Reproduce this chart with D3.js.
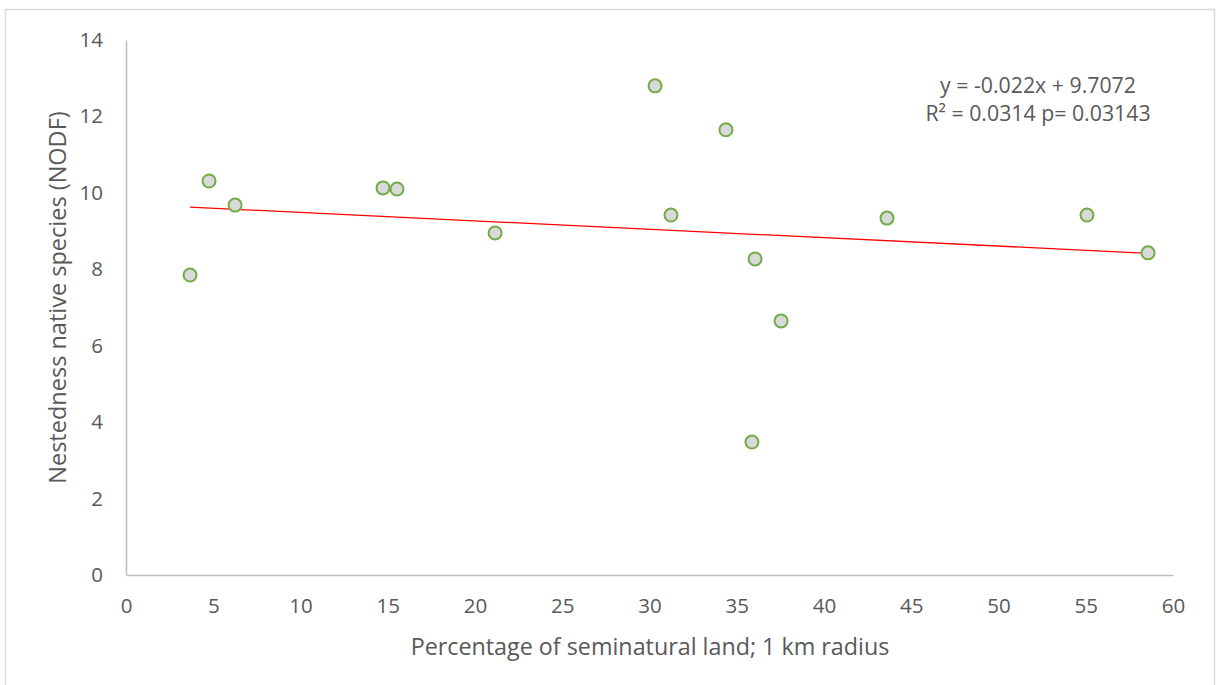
<!DOCTYPE html>
<html>
<head>
<meta charset="utf-8">
<script src="https://cdn.jsdelivr.net/npm/d3@7"></script>
<style>
  body { margin: 0; background: #fff; }
  text { font-family: "Open Sans", "Noto Sans", sans-serif; fill: #595959; }
</style>
</head>
<body>
<script>
// seminatural land (%) and nestedness (NODF) per site
var landPct = [3.67, 4.76, 6.25, 14.73, 15.53, 21.15, 30.32, 31.23, 34.38, 36.05, 35.87, 37.54, 43.61, 55.07, 58.57];
var nodf    = [7.85, 10.31, 9.68, 10.13, 10.10, 8.95, 12.80, 9.42, 11.65, 8.27, 3.48, 6.65, 9.34, 9.42, 8.43];
var xTicks = [0, 5, 10, 15, 20, 25, 30, 35, 40, 45, 50, 55, 60];
var yTicks = [0, 2, 4, 6, 8, 10, 12, 14];
var slope = -0.022, intercept = 9.7072;
var eqLines = ["y = -0.022x + 9.7072", "R² = 0.0314 p= 0.03143"];

var svgWidth = 1216;
var svgHeight = 685;
var plotLeft = 126, plotRight = 1173, plotTop = 40, plotBottom = 575;

var svg = d3.select("body").append("svg")
  .attr("width", svgWidth)
  .attr("height", svgHeight);

// outer chart border
svg.append("rect")
  .attr("x", 5.5).attr("y", 9.5)
  .attr("width", 1209).attr("height", 690)
  .attr("fill", "none")
  .attr("stroke", "#d9d9d9")
  .attr("stroke-width", 1.5);

var xScale = d3.scaleLinear().domain([0, 60]).range([plotLeft, plotRight]);
var yScale = d3.scaleLinear().domain([0, 14]).range([plotBottom, plotTop]);

// axes, excel style: no ticks, just the line
var xAxis = svg.append("g")
  .attr("transform", "translate(0," + plotBottom + ")")
  .call(d3.axisBottom(xScale).tickValues(xTicks).tickSize(0).tickPadding(29));
var yAxis = svg.append("g")
  .attr("transform", "translate(" + plotLeft + ",0)")
  .call(d3.axisLeft(yScale).tickValues(yTicks).tickSize(0).tickPadding(23));

[xAxis, yAxis].forEach(function(a) {
  a.select(".domain").attr("stroke", "#bfbfbf").attr("stroke-width", 1.5);
  a.selectAll("text").style("font-size", "20.5px").attr("fill", "#595959");
});
xAxis.selectAll("text").attr("dy", "0.42em");

// trendline
var xMin = d3.min(landPct), xMax = d3.max(landPct);
svg.append("line")
  .attr("x1", xScale(xMin)).attr("y1", yScale(slope * xMin + intercept))
  .attr("x2", xScale(xMax)).attr("y2", yScale(slope * xMax + intercept))
  .attr("stroke", "#ff0000")
  .attr("stroke-width", 1.3);

// points
svg.selectAll("circle.pt")
  .data(landPct.map(function(d, i) { return [d, nodf[i]]; }))
  .enter().append("circle")
  .attr("class", "pt")
  .attr("cx", function(d) { return xScale(d[0]); })
  .attr("cy", function(d) { return yScale(d[1]); })
  .attr("r", 6.5)
  .attr("fill", "#d9d9d9")
  .attr("stroke", "#70ad47")
  .attr("stroke-width", 2);

// equation label
svg.selectAll("text.eq")
  .data(eqLines)
  .enter().append("text")
  .attr("class", "eq")
  .attr("x", 1038)
  .attr("y", function(d, i) { return 93 + i * 28; })
  .attr("text-anchor", "middle")
  .style("font-size", "21.3px")
  .text(function(d) { return d; });

// axis titles
svg.append("text")
  .attr("x", 650).attr("y", 655)
  .attr("text-anchor", "middle")
  .style("font-size", "23.3px")
  .text("Percentage of seminatural land; 1 km radius");

svg.append("text")
  .attr("transform", "translate(66," + ((plotTop + plotBottom) / 2 - 10) + ") rotate(-90)")
  .attr("text-anchor", "middle")
  .style("font-size", "23.5px")
  .text("Nestedness native species (NODF)");
</script>
</body>
</html>
